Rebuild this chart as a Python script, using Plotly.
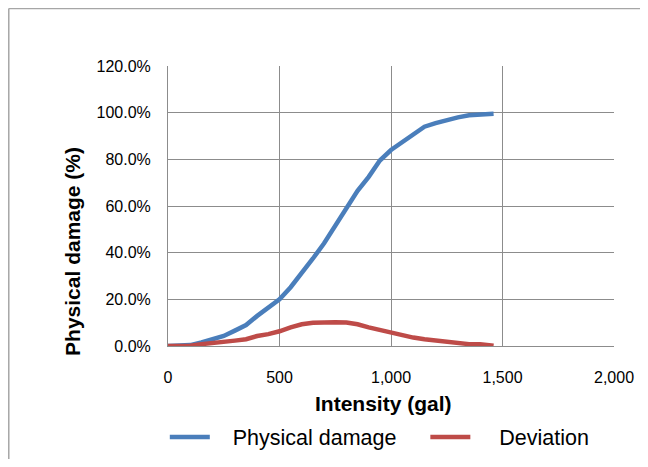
import plotly.graph_objects as go

# Intensity (gal) and curve values
intensity = [0, 50, 100, 150, 200, 250, 300, 350, 400, 450, 500, 550, 600, 650, 700,
             750, 800, 850, 900, 950, 1000, 1050, 1100, 1150, 1200, 1250, 1300, 1350, 1400, 1460]
physical_damage = [0.0, 0.1, 0.4, 1.5, 2.8, 4.3, 6.6, 9.0, 12.9, 16.3, 20.0, 25.2, 31.0, 37.5, 44.0,
                   51.5, 59.0, 66.5, 72.5, 79.5, 84.0, 87.5, 91.0, 94.0, 95.5, 97.0, 98.0, 98.9, 99.3, 99.5]
deviation = [0.0, 0.0, 0.1, 0.8, 1.2, 1.7, 2.3, 2.9, 4.3, 5.1, 6.3, 8.0, 9.3, 10.0, 10.2,
             10.2, 10.1, 9.3, 8.0, 6.9, 5.5, 4.5, 3.6, 2.9, 2.3, 1.6, 1.0, 0.8, 0.8, 0.1]

NB = "\u00a0"
fig = go.Figure()
fig.add_trace(go.Scatter(x=intensity, y=[v / 100 for v in physical_damage], mode="lines",
                         name=NB * 3 + "Physical damage" + NB * 4,
                         line=dict(color="#4A7EBB", width=4.5)))
fig.add_trace(go.Scatter(x=intensity, y=[v / 100 for v in deviation], mode="lines",
                         name=NB * 4 + "Deviation",
                         line=dict(color="#BE4B48", width=4.5)))

tick_font = dict(family="Liberation Sans", size=16, color="black")
fig.update_xaxes(range=[0, 2000], dtick=500, tickformat=",d", showgrid=True,
                 gridcolor="#8C8C8C", gridwidth=1, showline=True, linecolor="#8C8C8C",
                 zeroline=False, tickfont=tick_font, ticks="", ticklabelstandoff=17)
fig.update_yaxes(range=[0, 1.2], dtick=0.2, tickformat=".1%", showgrid=True,
                 gridcolor="#8C8C8C", gridwidth=1, showline=True, linecolor="#8C8C8C",
                 zeroline=False, tickfont=tick_font, ticks="", ticklabelstandoff=13)

title_font = dict(family="Liberation Sans", size=21, color="black")
fig.add_annotation(text="<b>Intensity (gal)</b>", xref="paper", yref="paper",
                   x=0.484, y=-0.205, xanchor="center", yanchor="middle",
                   showarrow=False, font=title_font)
fig.add_annotation(text="<b>Physical damage (%)</b>", xref="paper", yref="paper",
                   x=-0.213, y=0.336, xanchor="center", yanchor="middle",
                   showarrow=False, textangle=-90, font=title_font)

# outer chart frame: only its left and top edges show in the reference
frame = dict(color="#A6A6A6", width=1.5)
fig.add_shape(type="line", xref="paper", yref="paper", x0=-0.357, x1=-0.357, y0=-0.6, y1=1.205,
              line=frame, layer="below")
fig.add_shape(type="line", xref="paper", yref="paper", x0=-0.357, x1=1.3, y0=1.205, y1=1.205,
              line=frame, layer="below")

fig.update_layout(
    width=640, height=451,
    margin=dict(l=160, r=34, t=58, b=113),
    paper_bgcolor="white", plot_bgcolor="white",
    showlegend=True,
    legend=dict(orientation="h", xref="container", x=0.245, xanchor="left",
                yref="container", y=0.049, yanchor="middle",
                font=dict(family="Liberation Sans", size=21.5, color="black"),
                itemwidth=40, tracegroupgap=0),
)

fig.write_html("out.html")
